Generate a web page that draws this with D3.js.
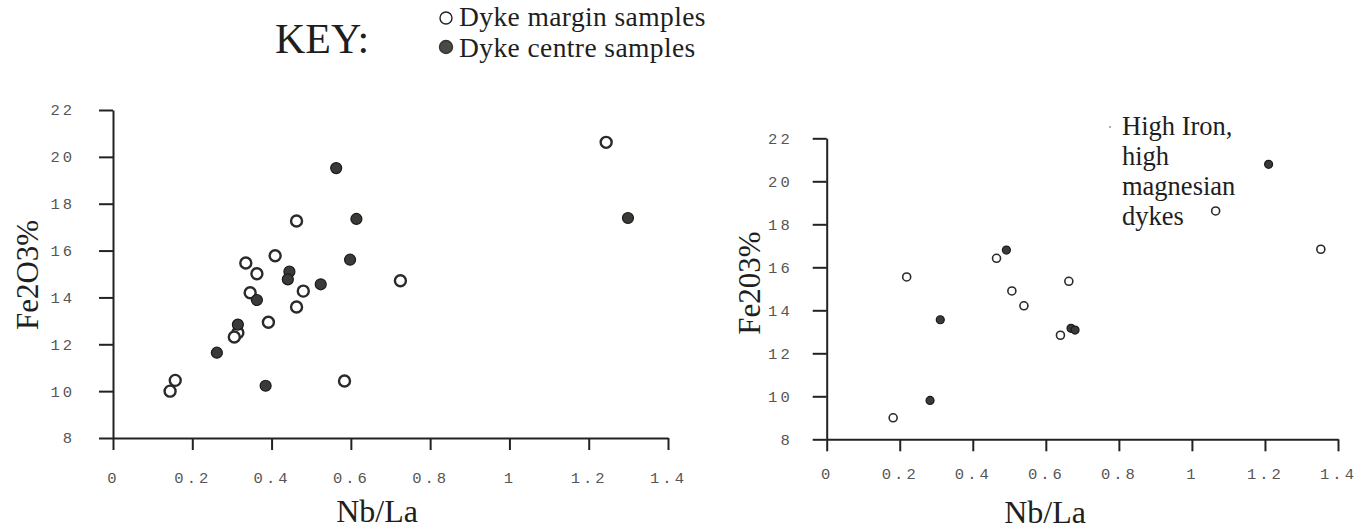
<!DOCTYPE html>
<html><head><meta charset="utf-8">
<script src="https://cdn.jsdelivr.net/npm/d3@7/dist/d3.min.js"></script>
<style>
html,body{margin:0;padding:0;background:#fff;}
svg{display:block;}
.tick text{font-family:"Liberation Mono",monospace;font-size:15.5px;fill:#555;}
.tick line,.domain{stroke:#222;stroke-width:2;}
.serif{font-family:"Liberation Serif","Times New Roman",serif;fill:#1e1e1e;}
</style></head>
<body>
<script>
// ---- data ----
const xTicks = [0, 0.2, 0.4, 0.6, 0.8, 1, 1.2, 1.4];
const yTicks = [8, 10, 12, 14, 16, 18, 20, 22];

const leftMarginX  = [0.144, 0.157, 0.335, 0.363, 0.409, 0.463, 0.346, 0.480, 0.463, 0.392, 0.315, 0.306, 0.584, 0.725, 1.244];
const leftMarginY  = [10.0, 10.46, 15.47, 15.01, 15.78, 17.26, 14.20, 14.27, 13.59, 12.94, 12.49, 12.31, 10.43, 14.71, 20.62];
const leftCentreX  = [0.563, 0.614, 0.598, 0.445, 0.441, 0.524, 0.363, 0.315, 0.262, 0.385, 1.299];
const leftCentreY  = [19.52, 17.35, 15.61, 15.10, 14.77, 14.56, 13.89, 12.84, 11.64, 10.23, 17.39];

const rightMarginX = [0.182, 0.219, 0.465, 0.507, 0.540, 0.663, 0.640, 1.065, 1.353];
const rightMarginY = [9.0, 15.55, 16.42, 14.90, 14.21, 15.35, 12.84, 18.62, 16.84];
const rightCentreX = [0.283, 0.311, 0.492, 0.669, 0.680, 1.210];
const rightCentreY = [9.81, 13.56, 16.80, 13.16, 13.08, 20.79];

const keyTitle = "KEY:";
const legendLabels = ["Dyke margin samples", "Dyke centre samples"];
const annotationLines = ["High Iron,", "high", "magnesian", "dykes"];

// ---- drawing ----
const W = 1364, H = 529;
const svg = d3.select("body").append("svg").attr("width", W).attr("height", H);

function panel(cfg) {
  const x = d3.scaleLinear().domain([0, 1.4]).range(cfg.xr);
  const y = d3.scaleLinear().domain([8, 22]).range(cfg.yr);
  const g = svg.append("g");

  g.append("g").attr("transform", `translate(0,${cfg.yr[0]})`)
    .call(d3.axisBottom(x).tickValues(xTicks).tickFormat(d3.format("~g"))
      .tickSize(12).tickSizeOuter(0).tickPadding(cfg.xPad));

  g.append("g").attr("transform", `translate(${cfg.xr[0]},0)`)
    .call(d3.axisLeft(y).tickValues(yTicks).tickFormat(d3.format("d"))
      .tickSize(14).tickSizeOuter(0).tickPadding(cfg.yPad));
  g.selectAll(".tick text").attr("letter-spacing", "3px");

  const margin = d3.zip(cfg.mx, cfg.my);
  const centre = d3.zip(cfg.cx, cfg.cy);
  g.selectAll(".m").data(margin).join("circle").attr("class", "m")
    .attr("cx", d => x(d[0])).attr("cy", d => y(d[1])).attr("r", cfg.r)
    .attr("fill", "#fff").attr("stroke", "#2a2a2a").attr("stroke-width", cfg.sw);
  g.selectAll(".c").data(centre).join("circle").attr("class", "c")
    .attr("cx", d => x(d[0])).attr("cy", d => y(d[1])).attr("r", cfg.r)
    .attr("fill", "#3a3a36").attr("stroke", "#1a1a1a").attr("stroke-width", 1.2);

  g.append("text").attr("class", "serif")
    .attr("x", cfg.xtX).attr("y", cfg.xtY).attr("text-anchor", "middle")
    .attr("font-size", 32).text("Nb/La");
  g.append("text").attr("class", "serif")
    .attr("transform", `translate(${cfg.ytX},${cfg.ytY}) rotate(-90)`)
    .attr("text-anchor", "middle").attr("font-size", 31).text(cfg.yTitle);
  return {x, y, g};
}

panel({xr: [113, 668], yr: [438, 110], xPad: 22, yPad: 24,
  mx: leftMarginX, my: leftMarginY, cx: leftCentreX, cy: leftCentreY,
  r: 5.5, sw: 2.4, xtX: 377, xtY: 522, ytX: 38, ytY: 275, yTitle: "Fe2O3%"});

panel({xr: [826.7, 1338], yr: [439.3, 138.3], xPad: 17, yPad: 20,
  mx: rightMarginX, my: rightMarginY, cx: rightCentreX, cy: rightCentreY,
  r: 4, sw: 1.6, xtX: 1045, xtY: 523, ytX: 760, ytY: 283, yTitle: "Fe203%"});

// annotation
const ann = svg.append("text").attr("class", "serif").attr("font-size", 26.5);
annotationLines.forEach((t, i) => {
  ann.append("tspan").attr("x", 1122).attr("y", 135 + i * 30).text(t);
});
svg.append("circle").attr("cx", 1110).attr("cy", 127).attr("r", 1).attr("fill", "#999");

// key
svg.append("text").attr("class", "serif").attr("x", 275).attr("y", 53)
  .attr("font-size", 42).text(keyTitle);
const leg = svg.append("g");
leg.selectAll("circle").data(legendLabels).join("circle")
  .attr("cx", 446).attr("cy", (d, i) => 18 + i * 29).attr("r", (d, i) => i ? 6.5 : 6)
  .attr("fill", (d, i) => i ? "#4a4a44" : "#fff")
  .attr("stroke", (d, i) => i ? "#333" : "#222").attr("stroke-width", 1.4);
leg.selectAll("text").data(legendLabels).join("text").attr("class", "serif")
  .attr("x", 459).attr("y", (d, i) => 26 + i * 31).attr("font-size", 27.5)
  .attr("letter-spacing", "0.4px").text(d => d);
</script>
</body></html>
